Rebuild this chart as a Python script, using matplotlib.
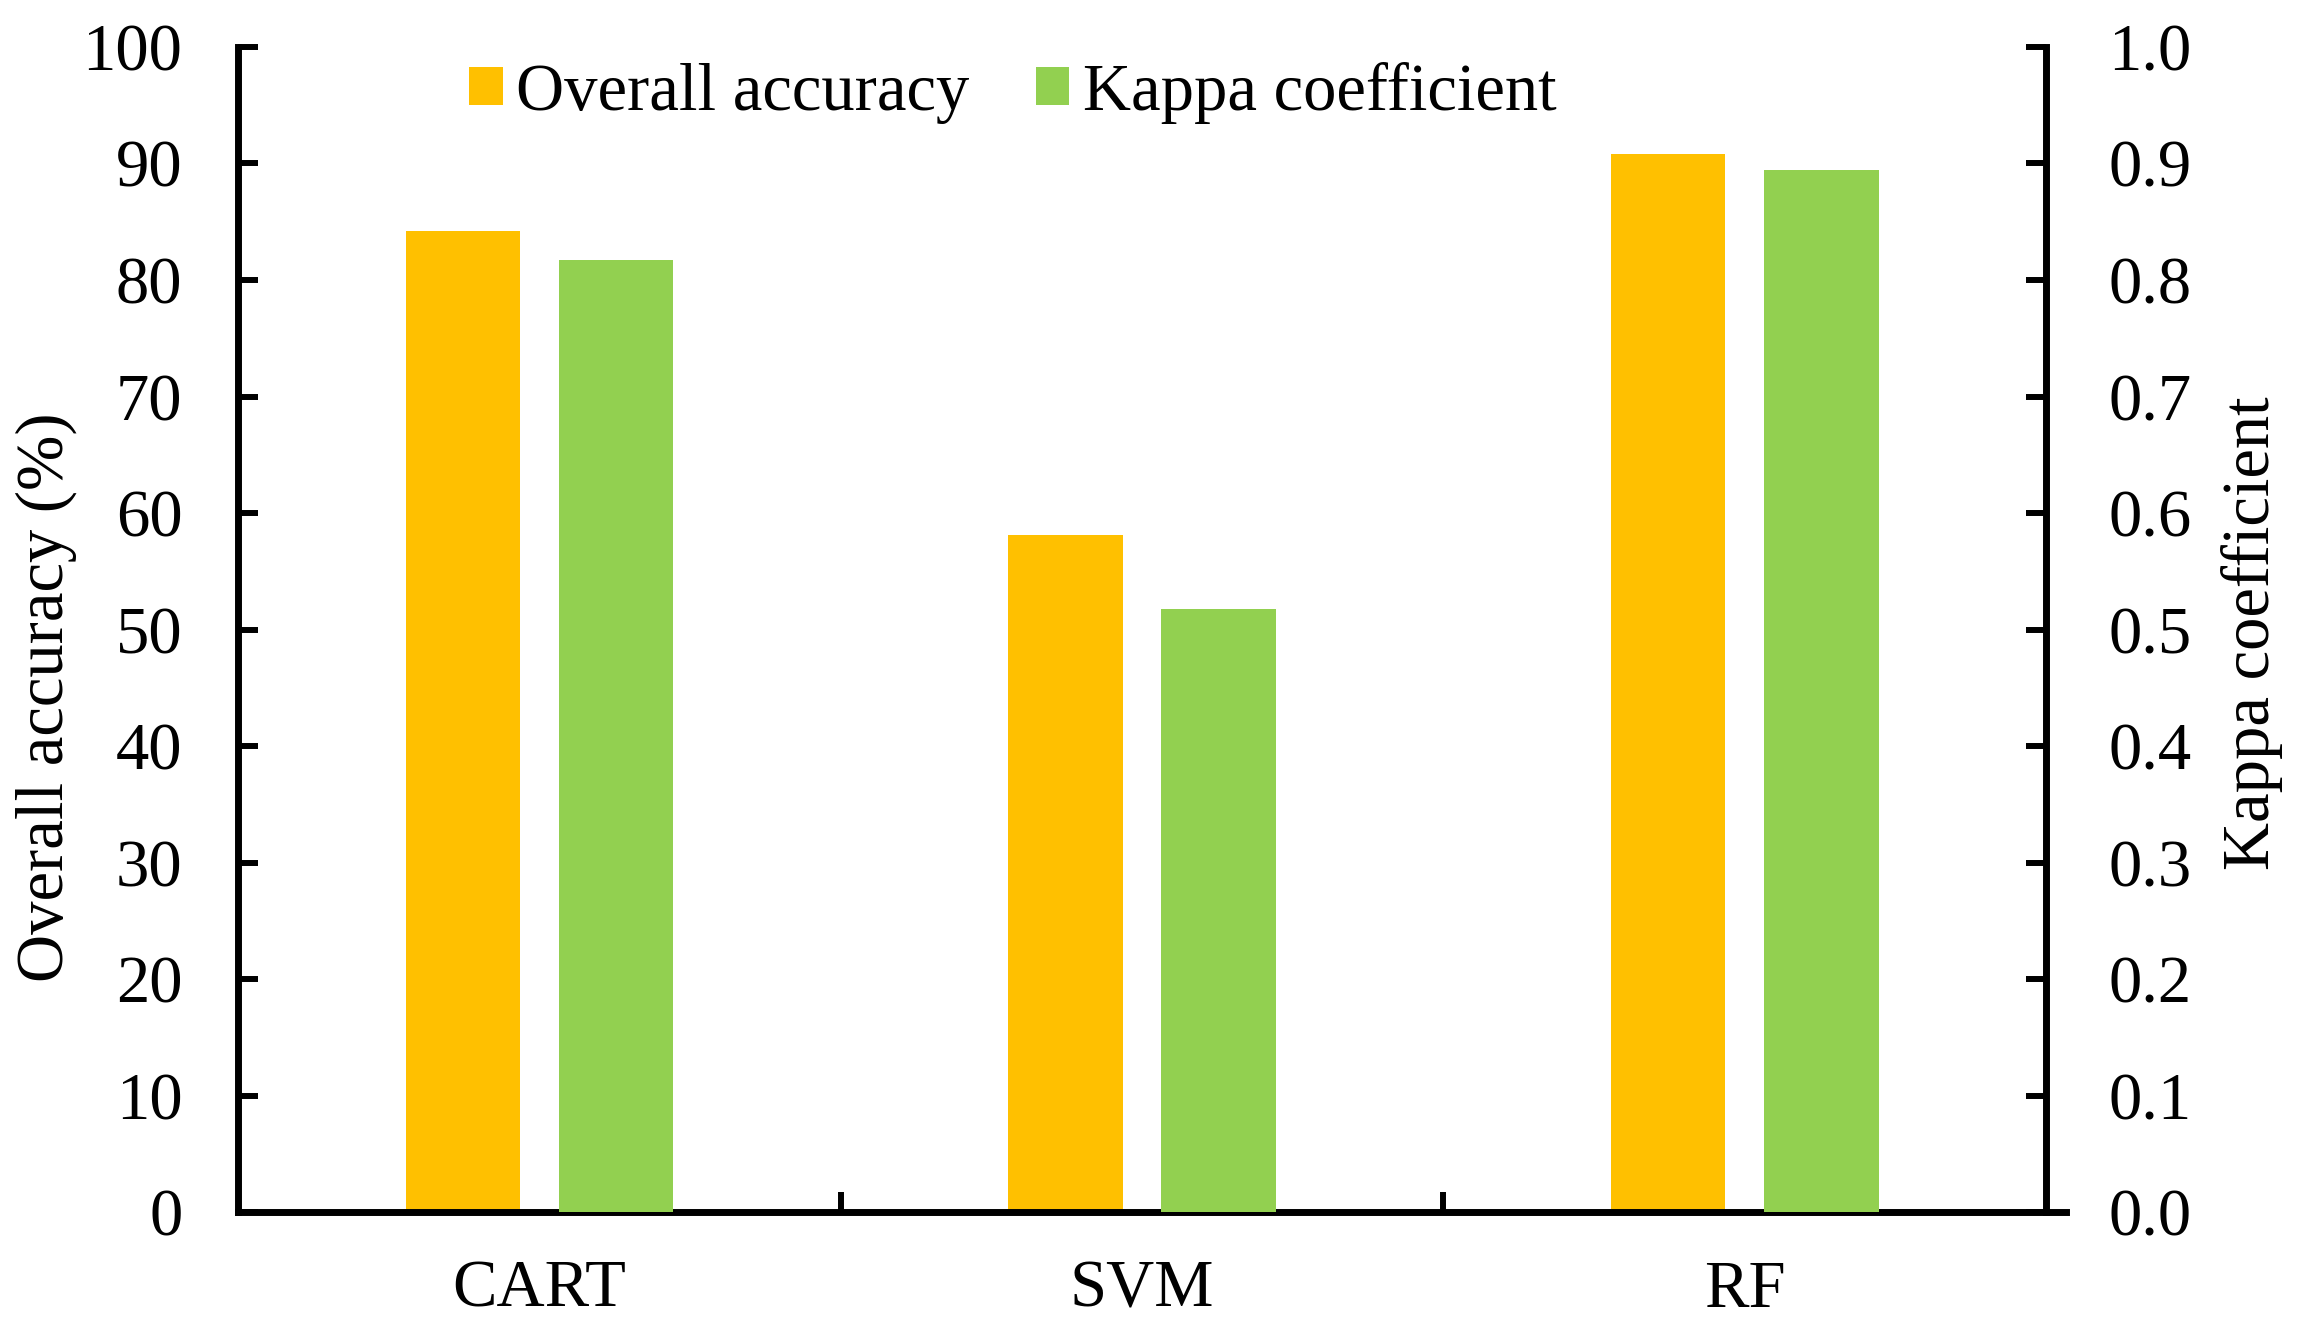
import matplotlib
matplotlib.use("Agg")
import matplotlib.pyplot as plt
import numpy as np

plt.rcParams['font.family'] = ['Liberation Serif', 'DejaVu Serif']
plt.rcParams['font.size'] = 48

methods = ['CART', 'SVM', 'RF']
overall_accuracy = [84.2, 58.1, 90.8]
kappa = [0.817, 0.518, 0.894]
acc_ticks = [0, 10, 20, 30, 40, 50, 60, 70, 80, 90, 100]
kappa_ticks = [0.0, 0.1, 0.2, 0.3, 0.4, 0.5, 0.6, 0.7, 0.8, 0.9, 1.0]

orange = '#FFC000'
green = '#92D050'

fig = plt.figure(figsize=(23.13, 13.26), dpi=100)
ax = fig.add_axes([0.1029, 0.0856, 0.7817, 0.879])
ax2 = ax.twinx()

x = np.arange(len(methods))
w = 0.19
off = 0.127

b1 = ax.bar(x - off, overall_accuracy, w, color=orange, label='Overall accuracy', zorder=2)
b2 = ax2.bar(x + off, kappa, w, color=green, label='Kappa coefficient', zorder=2)

ax.set_xlim(-0.5, 2.5)
ax.set_ylim(0, 100)
ax2.set_ylim(0, 1)
ax.set_yticks(acc_ticks)
ax2.set_yticks(kappa_ticks)
ax2.set_yticklabels([f'{t:.1f}' for t in kappa_ticks])

# category labels in the middle, tick marks between the groups
ax.set_xticks([0.5, 1.5])
ax.set_xticklabels([])
ax.set_xticks(x, minor=True)
ax.set_xticklabels(methods, minor=True)
ax.tick_params(axis='x', which='minor', length=0, pad=34)
ax.tick_params(axis='x', which='major', direction='in', length=14.5, width=4.3)

ax.tick_params(axis='y', direction='in', length=14.5, width=4.3, pad=40)
ax2.tick_params(axis='y', direction='in', length=14.5, width=4.3, pad=45)

for a in (ax, ax2):
    a.spines['top'].set_visible(False)
    for s in a.spines.values():
        s.set_linewidth(5)
ax2.spines['left'].set_visible(False)
ax2.spines['bottom'].set_visible(False)
ax.spines['right'].set_visible(False)
ax.spines['bottom'].set_bounds(-0.5, 2.533)

ax.set_ylabel('Overall accuracy (%)')
ax.yaxis.label.set_verticalalignment('center')
ax.yaxis.set_label_coords(-0.106, 0.442)
ax2.set_ylabel('Kappa coefficient')
ax2.yaxis.label.set_verticalalignment('center')
ax2.yaxis.set_label_coords(1.114, 0.497)

ax2.legend([b1, b2], ['Overall accuracy', 'Kappa coefficient'], ncol=2,
           loc='center left', bbox_to_anchor=(0.128, 0.9605), frameon=False,
           borderpad=0, borderaxespad=0, handlelength=0.5, handleheight=0.5,
           handletextpad=0.2, columnspacing=1.0)

fig.savefig('out.png', dpi=100)
